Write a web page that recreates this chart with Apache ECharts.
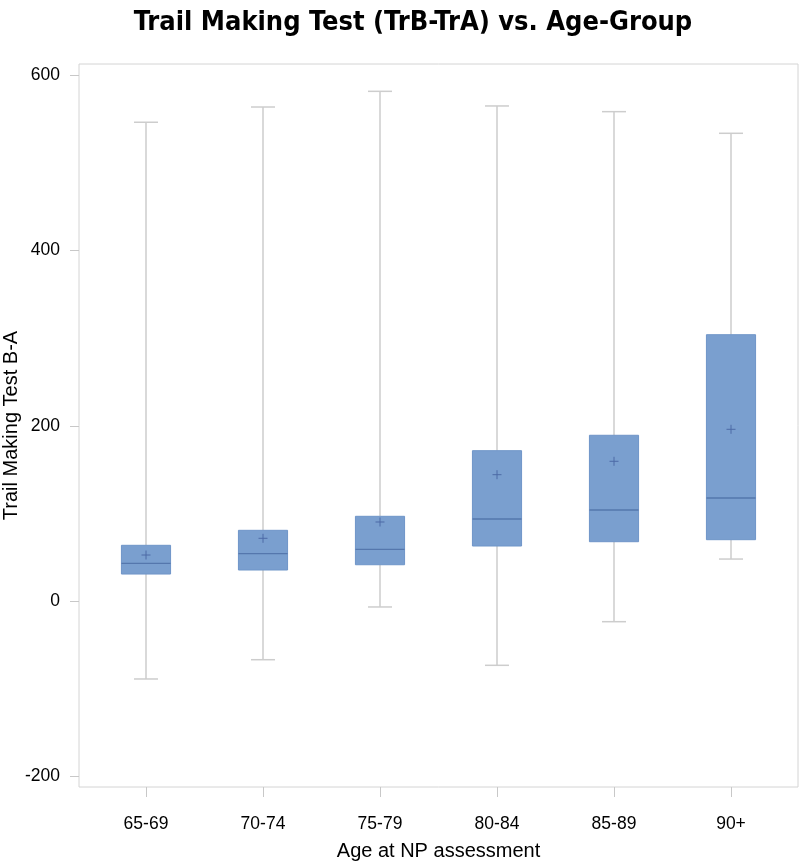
<!DOCTYPE html>
<html>
<head>
<meta charset="utf-8">
<script src="https://cdn.jsdelivr.net/npm/echarts@6/dist/echarts.min.js"></script>
<style>html,body{margin:0;padding:0;background:#fff;}#c{width:800px;height:863px;}</style>
</head>
<body>
<div id="c"></div>
<script>
var categories = ['65-69', '70-74', '75-79', '80-84', '85-89', '90+'];
var lowWhisker = [-89.0, -67.0, -6.8, -73.4, -23.6, 47.9];
var q1Values = [30.8, 35.4, 41.4, 62.8, 67.7, 70.0];
var medianValues = [43.0, 54.0, 59.0, 93.6, 103.9, 117.6];
var q3Values = [63.6, 80.7, 96.7, 171.6, 189.2, 304.0];
var highWhisker = [546.5, 563.9, 581.8, 565.1, 558.6, 533.9];
var meanValues = [52.5, 71.6, 90.2, 144.2, 159.5, 196.0];
var yTickLabels = [-200, 0, 200, 400, 600];

var data = categories.map(function (c, i) {
  return [i, lowWhisker[i], q1Values[i], medianValues[i], q3Values[i], highWhisker[i], meanValues[i]];
});

var YMIN = -212.3, YMAX = 613.0;
var FONT = 'Liberation Sans, Arial, sans-serif';

function renderItem(params, api) {
  var x = api.value(0);
  var band = api.size([1, 0])[0];
  var bw = band * 0.42;
  var cw = band * 0.205;
  var pLow = api.coord([x, api.value(1)]);
  var pQ1 = api.coord([x, api.value(2)]);
  var pMed = api.coord([x, api.value(3)]);
  var pQ3 = api.coord([x, api.value(4)]);
  var pHigh = api.coord([x, api.value(5)]);
  var pMean = api.coord([x, api.value(6)]);
  var cx = pQ1[0];
  var wStyle = {stroke: '#cdcdcd', lineWidth: 1.5};
  var ms = 4.5;
  return {
    type: 'group',
    children: [
      {type: 'line', shape: {x1: cx, y1: pHigh[1], x2: cx, y2: pQ3[1]}, style: wStyle},
      {type: 'line', shape: {x1: cx, y1: pQ1[1], x2: cx, y2: pLow[1]}, style: wStyle},
      {type: 'line', shape: {x1: cx - cw / 2, y1: pHigh[1], x2: cx + cw / 2, y2: pHigh[1]}, style: wStyle},
      {type: 'line', shape: {x1: cx - cw / 2, y1: pLow[1], x2: cx + cw / 2, y2: pLow[1]}, style: wStyle},
      {type: 'rect', shape: {x: cx - bw / 2, y: pQ3[1], width: bw, height: pQ1[1] - pQ3[1]},
        style: {fill: '#7a9fcf', stroke: '#6f95c8', lineWidth: 1}},
      {type: 'line', shape: {x1: cx - bw / 2, y1: pMed[1], x2: cx + bw / 2, y2: pMed[1]},
        style: {stroke: '#5577ad', lineWidth: 1.3}},
      {type: 'line', shape: {x1: cx - ms, y1: pMean[1], x2: cx + ms, y2: pMean[1]},
        style: {stroke: '#4d6aa6', lineWidth: 1}},
      {type: 'line', shape: {x1: cx, y1: pMean[1] - ms, x2: cx, y2: pMean[1] + ms},
        style: {stroke: '#4d6aa6', lineWidth: 1}}
    ]
  };
}

var chart = echarts.init(document.getElementById('c'), null, {renderer: 'canvas'});
chart.setOption({
  animation: false,
  backgroundColor: '#fff',
  graphic: [{
    type: 'text', x: 413, y: 23,
    style: {
      text: 'Trail Making Test (TrB-TrA) vs. Age-Group',
      fill: '#000',
      font: 'bold 27px "Liberation Sans Narrow", "Arial Narrow", "DejaVu Sans Condensed", sans-serif',
      textAlign: 'center', textVerticalAlign: 'middle'
    }
  }],
  grid: [
    {left: 79, top: 64, width: 719, height: 723, show: true, borderColor: '#d4d4d4', borderWidth: 1,
      backgroundColor: 'transparent', containLabel: false, outerBoundsMode: 'none'},
    {left: 87.5, top: 64, width: 702, height: 723, containLabel: false, outerBoundsMode: 'none'}
  ],
  xAxis: [
    {type: 'value', gridIndex: 0, show: false, min: 0, max: 1},
    {
      type: 'category', gridIndex: 1, data: categories,
      axisLine: {show: false, onZero: false},
      axisTick: {show: true, alignWithLabel: true, length: 10, lineStyle: {color: '#c8c8c8'}},
      axisLabel: {fontSize: 17.5, color: '#000', fontFamily: FONT, margin: 28},
      name: 'Age at NP assessment', nameLocation: 'middle', nameGap: 54, nameMoveOverlap: false,
      nameTextStyle: {fontSize: 20, color: '#000', fontFamily: FONT}
    }
  ],
  yAxis: [
    {
      type: 'value', gridIndex: 0, min: YMIN, max: YMAX,
      axisLine: {show: false, onZero: false},
      splitLine: {show: false},
      axisTick: {show: true, length: 9, customValues: yTickLabels, lineStyle: {color: '#c8c8c8'}},
      axisLabel: {fontSize: 17.5, color: '#000', fontFamily: FONT, margin: 19, customValues: yTickLabels},
      name: 'Trail Making Test B-A', nameLocation: 'middle', nameGap: 58, nameMoveOverlap: false,
      nameTextStyle: {fontSize: 20, color: '#000', fontFamily: FONT}
    },
    {type: 'value', gridIndex: 1, min: YMIN, max: YMAX, show: false, splitLine: {show: false}}
  ],
  series: [{
    type: 'custom',
    xAxisIndex: 1, yAxisIndex: 1,
    renderItem: renderItem,
    encode: {x: 0, y: [1, 2, 3, 4, 5, 6]},
    data: data
  }]
});
</script>
</body>
</html>
